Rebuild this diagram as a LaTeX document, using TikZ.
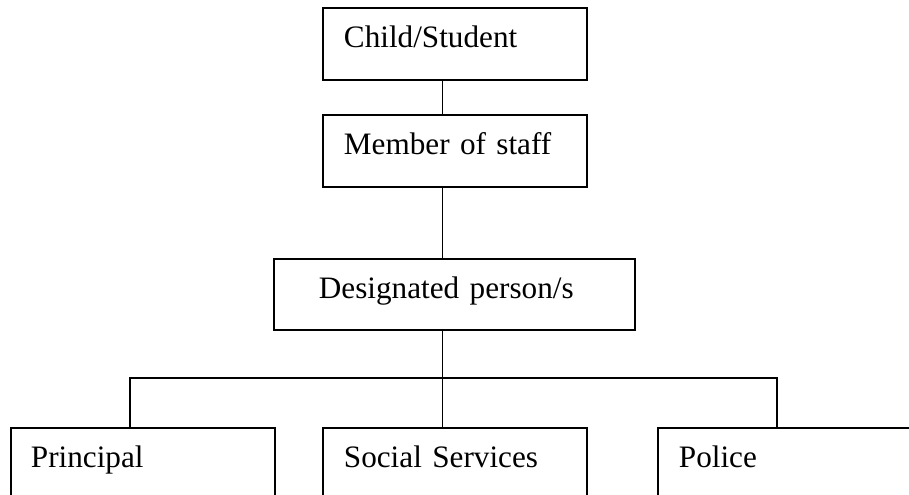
\documentclass[tikz,border=0pt]{standalone}
\usepackage{fontspec}
\setmainfont{Liberation Serif}
\tikzset{
    box/.style={draw, line width=1.4pt, anchor=north west, align=left, inner ysep=0pt,
        text height=30pt, font=\fontsize{23.4}{27}\selectfont},
    link/.style={line width=1.4pt}
}
\begin{document}
\begin{tikzpicture}[x=0.75pt, y=-0.75pt]
    \useasboundingbox (0,0) rectangle (909,495);
    \clip (0,0) rectangle (909,495);

    \node[box, inner xsep=15.75pt, text width=166.5pt, text depth=24pt] (child) at (322,7) {Child/Student};
    \node[box, inner xsep=15.75pt, text width=166.5pt, text depth=24pt] (staff) at (322,114) {Member of staff};
    \node[box, inner xsep=33.75pt, text width=203.25pt, text depth=23.25pt] (dp) at (273,258) {Designated person/s};

    \node[box, inner xsep=15pt, text width=168pt, text depth=32pt] (principal) at (10,427) {Principal};
    \node[box, inner xsep=15.75pt, text width=166.5pt, text depth=32pt] (social) at (322,427) {Social Services};
    \node[box, inner xsep=15.75pt, text width=166.5pt, text depth=32pt] (police) at (657,427) {Police};

    \coordinate (trunk) at (442.5,0);
    \coordinate (lp) at (130,378);
    \coordinate (rp) at (777,378);

    \draw[link] (child.south -| trunk) -- (staff.north -| trunk);
    \draw[link] (staff.south -| trunk) -- (dp.north -| trunk);
    \draw[link] (dp.south -| trunk) -- (lp -| trunk) -- (social.north -| trunk);
    \draw[link] (principal.north -| lp) -- (lp) -- (rp) -- (police.north -| rp);
\end{tikzpicture}
\end{document}
